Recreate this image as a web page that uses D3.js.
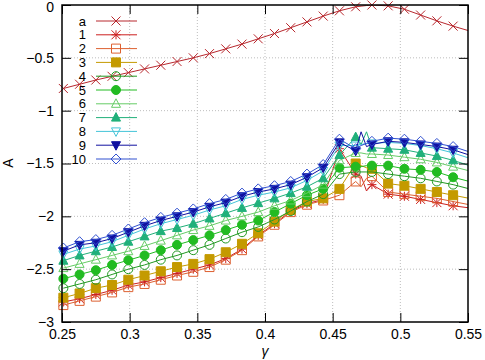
<!DOCTYPE html>
<meta charset="utf-8">
<style>
  body { margin: 0; background: #fff; }
  svg text { font-family: "Liberation Sans", Arial, sans-serif; }
</style>
<body>
<div id="chart"></div>
<script src="https://cdn.jsdelivr.net/npm/d3@7"></script>
<script>
// x positions (gamma); 0.471 / 0.475 are extra line-only points, 0.551 sits past the edge
const gamma = [0.251, 0.263, 0.275, 0.287, 0.299, 0.311, 0.323, 0.335, 0.347, 0.359, 0.371, 0.383, 0.395,
               0.407, 0.419, 0.431, 0.443, 0.455, 0.467, 0.471, 0.475, 0.479, 0.491, 0.503, 0.515, 0.527,
               0.539, 0.551];
const noMarker = [0.471, 0.475];

const sA  = [-0.79, -0.75, -0.71, -0.675, -0.64, -0.605, -0.57, -0.535, -0.50, -0.46, -0.415, -0.37, -0.32,
             -0.27, -0.215, -0.16, -0.105, -0.055, -0.017, -0.011, -0.005, 0.0, -0.008, -0.04, -0.095, -0.15,
             -0.20, -0.245];
const s1  = [-2.81, -2.78, -2.74, -2.70, -2.65, -2.62, -2.58, -2.54, -2.50, -2.46, -2.40, -2.31, -2.18,
             -2.07, -1.95, -1.88, -1.84, -1.36, -1.60, -1.62, -1.76, -1.70, -1.79, -1.81, -1.84, -1.87,
             -1.90, -1.92];
const s2  = [-2.84, -2.80, -2.76, -2.72, -2.67, -2.64, -2.60, -2.56, -2.525, -2.48, -2.41, -2.32, -2.19,
             -2.08, -1.96, -1.89, -1.85, -1.80, -1.67, -1.72, -1.64, -1.62, -1.77, -1.79, -1.81, -1.83,
             -1.86, -1.89];
const s3  = [-2.77, -2.73, -2.68, -2.65, -2.60, -2.56, -2.52, -2.48, -2.45, -2.405, -2.34, -2.26, -2.16,
             -2.05, -1.94, -1.86, -1.83, -1.74, -1.50, -1.52, -1.54, -1.55, -1.69, -1.71, -1.74, -1.77,
             -1.80, -1.83];
const s4  = [-2.68, -2.64, -2.60, -2.55, -2.50, -2.46, -2.41, -2.37, -2.32, -2.27, -2.21, -2.15, -2.10,
             -2.03, -1.95, -1.86, -1.79, -1.60, -1.58, -1.58, -1.58, -1.58, -1.60, -1.62, -1.64, -1.67,
             -1.70, -1.74];
const s5  = [-2.59, -2.55, -2.51, -2.46, -2.415, -2.37, -2.32, -2.27, -2.225, -2.18, -2.13, -2.08, -2.04,
             -1.96, -1.88, -1.80, -1.74, -1.54, -1.53, -1.53, -1.52, -1.52, -1.52, -1.55, -1.56, -1.58,
             -1.63, -1.67];
const s6  = [-2.49, -2.45, -2.41, -2.37, -2.33, -2.28, -2.23, -2.18, -2.13, -2.09, -2.04, -2.00, -1.96,
             -1.90, -1.85, -1.78, -1.70, -1.47, -1.40, -1.40, -1.41, -1.41, -1.42, -1.44, -1.46, -1.49,
             -1.53, -1.57];
const s7  = [-2.42, -2.37, -2.33, -2.29, -2.24, -2.19, -2.14, -2.11, -2.07, -2.02, -1.97, -1.92, -1.875,
             -1.83, -1.78, -1.72, -1.64, -1.42, -1.25, -1.32, -1.20, -1.35, -1.36, -1.37, -1.40, -1.43,
             -1.47, -1.52];
const s8  = [-2.36, -2.31, -2.28, -2.24, -2.18, -2.12, -2.07, -2.03, -1.99, -1.94, -1.90, -1.84, -1.80,
             -1.77, -1.73, -1.66, -1.57, -1.33, -1.33, -1.32, -1.31, -1.31, -1.30, -1.31, -1.33, -1.36,
             -1.40, -1.45];
const s9  = [-2.33, -2.27, -2.25, -2.21, -2.15, -2.09, -2.04, -2.00, -1.96, -1.91, -1.87, -1.81, -1.77,
             -1.74, -1.70, -1.63, -1.54, -1.30, -1.38, -1.20, -1.34, -1.32, -1.29, -1.30, -1.32, -1.34,
             -1.37, -1.42];
const s10 = [-2.30, -2.24, -2.22, -2.18, -2.12, -2.06, -2.01, -1.97, -1.93, -1.88, -1.84, -1.78, -1.74,
             -1.71, -1.67, -1.60, -1.51, -1.27, -1.36, -1.33, -1.31, -1.29, -1.26, -1.27, -1.29, -1.31,
             -1.34, -1.39];

const names  = ["a", "1", "2", "3", "4", "5", "6", "7", "8", "9", "10"];
const xTicks = [0.25, 0.3, 0.35, 0.4, 0.45, 0.5, 0.55];
const yTicks = [0, -0.5, -1, -1.5, -2, -2.5, -3];

const series = [
  { name: names[0],  values: sA,  color: "#b8282e", sym: "x" },
  { name: names[1],  values: s1,  color: "#cc2020", sym: "star" },
  { name: names[2],  values: s2,  color: "#dd6030", sym: "sq", fill: false },
  { name: names[3],  values: s3,  color: "#c49a00", sym: "sq", fill: true },
  { name: names[4],  values: s4,  color: "#229922", sym: "circ", fill: false },
  { name: names[5],  values: s5,  color: "#22bb22", sym: "circ", fill: true },
  { name: names[6],  values: s6,  color: "#66cc66", sym: "tri", fill: false },
  { name: names[7],  values: s7,  color: "#20b07a", sym: "tri", fill: true },
  { name: names[8],  values: s8,  color: "#44c4d8", sym: "dtri", fill: false },
  { name: names[9],  values: s9,  color: "#1010a0", sym: "dtri", fill: true },
  { name: names[10], values: s10, color: "#3050d0", sym: "diam", fill: false }
];

const W = 485, H = 360;
const mL = 62, mR = 468, mT = 5, mB = 322;

const x = d3.scaleLinear().domain([0.25, 0.55]).range([mL, mR]);
const y = d3.scaleLinear().domain([-3, 0]).range([mB, mT]);

const svg = d3.select("#chart").append("svg")
    .attr("width", W).attr("height", H);

svg.append("defs").append("clipPath").attr("id", "plot")
  .append("rect").attr("x", mL).attr("y", mT)
    .attr("width", mR - mL).attr("height", mB - mT);

// dotted grid
const grid = svg.append("g");
grid.selectAll(".gx").data(xTicks.slice(1, -1)).join("line")
    .attr("class", "gx")
    .attr("x1", d => x(d)).attr("x2", d => x(d))
    .attr("y1", mT).attr("y2", mB);
grid.selectAll(".gy").data(yTicks.slice(1, -1)).join("line")
    .attr("class", "gy")
    .attr("y1", d => y(d)).attr("y2", d => y(d))
    .attr("x1", mL).attr("x2", mR);
grid.selectAll("line")
    .attr("stroke", "#bdbdbd").attr("stroke-width", 1)
    .attr("stroke-dasharray", "1,2");

// marker path generator
function markerPath(sym) {
  const r = 4.5;
  switch (sym) {
    case "x":    return `M${-r},${-r}L${r},${r}M${-r},${r}L${r},${-r}`;
    case "star": return `M${-r},${-r}L${r},${r}M${-r},${r}L${r},${-r}M0,${-r}L0,${r}M${-r},0L${r},0`;
    case "sq":   return `M${-r},${-r}H${r}V${r}H${-r}Z`;
    case "circ": return `M${r},0A${r},${r} 0 1,1 ${-r},0A${r},${r} 0 1,1 ${r},0Z`;
    case "tri":  return `M0,${-r - 0.5}L${r},${r - 1}L${-r},${r - 1}Z`;
    case "dtri": return `M0,${r + 0.5}L${r},${-r + 1}L${-r},${-r + 1}Z`;
    case "diam": return `M0,${-r - 0.5}L${r + 0.5},0L0,${r + 0.5}L${-r - 0.5},0Z`;
  }
}

function drawMarker(sel, s) {
  sel.append("path")
    .attr("d", markerPath(s.sym))
    .attr("fill", s.fill ? s.color : "none")
    .attr("stroke", s.color)
    .attr("stroke-width", 1);
}

const line = d3.line().x(d => x(d[0])).y(d => y(d[1]));

const plot = svg.append("g");
series.forEach(s => {
  const pts = gamma.map((g, i) => [g, s.values[i]]);
  plot.append("path")
    .attr("clip-path", "url(#plot)")
    .attr("d", line(pts))
    .attr("fill", "none")
    .attr("stroke", s.color)
    .attr("stroke-width", 1);
  pts.filter(p => p[0] <= 0.55 && !noMarker.includes(p[0])).forEach(p => {
    const m = plot.append("g").attr("transform", `translate(${x(p[0])},${y(p[1])})`);
    drawMarker(m, s);
  });
});

// axes (ticks pointing inward, mirrored on top/right)
const fmt = d3.format("~g");
const axB = svg.append("g").attr("transform", `translate(0,${mB})`)
  .call(d3.axisBottom(x).tickValues(xTicks).tickFormat(fmt).tickSize(-9).tickPadding(7));
const axT = svg.append("g").attr("transform", `translate(0,${mT})`)
  .call(d3.axisTop(x).tickValues(xTicks).tickFormat("").tickSize(-9));
const axL = svg.append("g").attr("transform", `translate(${mL},0)`)
  .call(d3.axisLeft(y).tickValues(yTicks).tickFormat(fmt).tickSize(-9).tickPadding(8));
const axR = svg.append("g").attr("transform", `translate(${mR},0)`)
  .call(d3.axisRight(y).tickValues(yTicks).tickFormat("").tickSize(-9));

[axB, axT, axL, axR].forEach(a => {
  a.select(".domain").remove();
  a.selectAll(".tick line").attr("stroke", "#000").attr("stroke-width", 1);
  a.selectAll(".tick text").attr("fill", "#000").style("font-size", "14px");
});
// keep the top "0" label inside the picture
axL.selectAll(".tick text").filter(d => d === 0).attr("dy", "0.45em");

svg.append("rect")
  .attr("x", mL).attr("y", mT)
  .attr("width", mR - mL).attr("height", mB - mT)
  .attr("fill", "none").attr("stroke", "#000").attr("stroke-width", 1.5);

// axis labels
svg.append("text")
  .attr("x", x(0.4)).attr("y", 356)
  .attr("text-anchor", "middle")
  .style("font-size", "14px").style("font-style", "italic")
  .text("γ");
svg.append("text")
  .attr("transform", `translate(13,163) rotate(-90)`)
  .attr("text-anchor", "middle")
  .style("font-size", "14px")
  .text("A");

// legend
const leg = svg.append("g");
series.forEach((s, i) => {
  const ly = 21 + i * 13.8;
  leg.append("text")
    .attr("x", 86).attr("y", ly).attr("dy", "0.35em")
    .attr("text-anchor", "end").style("font-size", "13px")
    .text(s.name);
  leg.append("line")
    .attr("x1", 96).attr("x2", 137).attr("y1", ly).attr("y2", ly)
    .attr("stroke", s.color).attr("stroke-width", 1);
  const m = leg.append("g").attr("transform", `translate(116,${ly})`);
  drawMarker(m, s);
});
</script>
</body>
